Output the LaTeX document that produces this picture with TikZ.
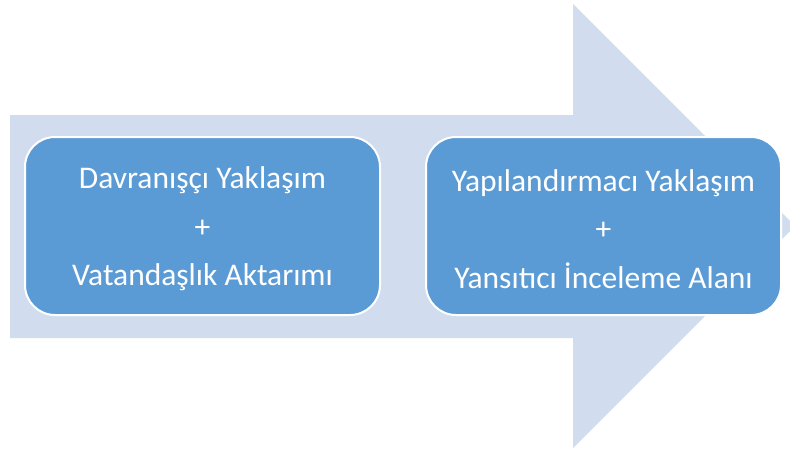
\documentclass[tikz,border=0pt]{standalone}
\usepackage{fontspec}
\setmainfont{Carlito}
\definecolor{arrowfill}{HTML}{D1DDEE}
\definecolor{boxfill}{HTML}{5B9BD5}
\begin{document}
\begin{tikzpicture}[x=1pt,y=-1pt,
  stagebox/.style={draw=white,line width=2pt,fill=boxfill,rounded corners=30pt,
    minimum width=355pt,minimum height=178pt,text=white,align=center,
    inner sep=0pt},
  stagetext/.style={text=white,align=center,font=\fontsize{31.5}{48.5}\selectfont,inner sep=0pt}]
\useasboundingbox (0,0) rectangle (790,450);
\fill[arrowfill] (10,115) -- (573,115) -- (573,4) -- (795,226) -- (573,448) -- (573,338) -- (10,338) -- cycle;
\node[stagebox] (a) at (202.5,226) {};
\node[stagebox] (b) at (603.5,226) {};
\node[stagetext] (ta) at (202.5,229) {Davranışçı Yaklaşım\\+\\Vatandaşlık Aktarımı};
\node[stagetext] (tb) at (603.5,229) {Yapılandırmacı Yaklaşım\\+\\Yansıtıcı İnceleme Alanı};
\end{tikzpicture}
\end{document}
